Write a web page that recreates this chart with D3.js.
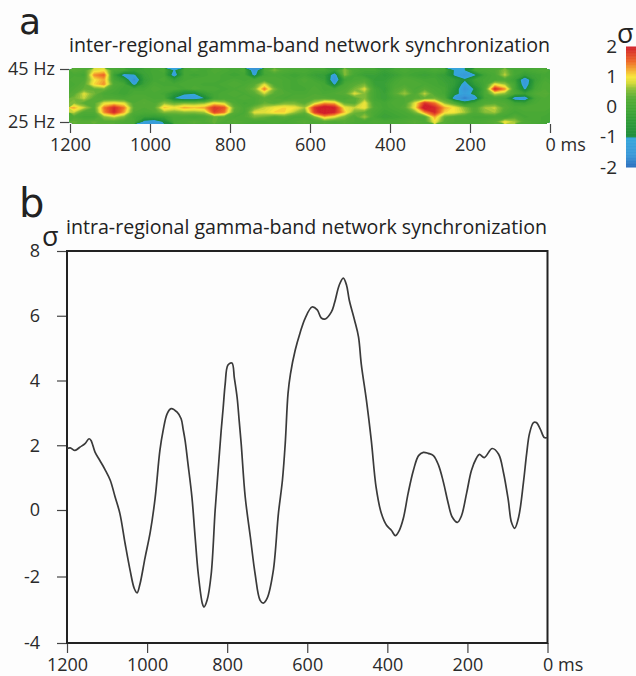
<!DOCTYPE html>
<html>
<head>
<meta charset="utf-8">
<script src="https://cdn.jsdelivr.net/npm/d3@7"></script>
<style>
  html, body { margin: 0; padding: 0; background: #fdfdfd; }
  svg { display: block; }
  text { font-family: "Open Sans", sans-serif; fill: #222; }
  .axis path { display: none; }
  .axis line { stroke: #444; stroke-width: 1.2; }
  .axis text { font-size: 18px; fill: #2a2a2a; }
</style>
</head>
<body>
<div id="chart"></div>
<script>
// Panel titles
const titleA = 'inter-regional gamma-band network synchronization'
const titleB = 'intra-regional gamma-band network synchronization'

// Tick labels
const timeTicks = [1200, 1000, 800, 600, 400, 200, 0]
const freqTicks = [45, 25]
const sigmaTicks = [8, 6, 4, 2, 0, -2, -4]
const legendTicks = [2, 1, 0, -1, -2]

// Colour bar stops, green to red above -1, blues below (the jump at -1 is in the original)
const warmValues = [-1, -0.5, 0, 0.3, 0.6, 0.8, 1, 1.5, 2]
const warmColors = ['#1f8c3c', '#2e9a38', '#47a836', '#58ad36', '#8fc038', '#d6dc3a', '#f8e63a', '#ee6a28', '#d2202c']
const blueValues = [-2, -1.6, -1]
const blueColors = ['#2b6fbd', '#3a98d8', '#35a8dc']

// Panel a: sigma per cell, rows from 45 Hz down to 25 Hz, columns from 1200 ms to 0 ms
const gridRows = [
  [0.3,0.2,0.9,1.0,0.1,0.0,-0.3,-0.1,0.0,0.1,-1.1,0.0,0.1,0.0,0.2,0.1,0.0,0.1,-1.6,0.1,0.5,0.2,0.1,0.1,0.0,0.0,-0.3,0.6,0.1,0.0,0.0,-0.2,0.0,0.1,0.0,0.0,0.1,0.0,-1.1,-1.0,0.0,0.1,0.2,0.6,0.0,0.0,0.1,0.2],
  [0.1,0.0,1.4,1.6,-0.2,-1.3,-1.1,-0.2,0.0,0.0,-1.4,0.0,-0.1,0.0,0.1,0.0,-0.1,0.0,-1.2,0.0,0.1,0.0,-0.1,0.0,-0.2,-0.3,-1.4,0.6,0.0,-0.2,-0.2,-0.4,-0.2,0.0,-0.1,-0.2,-0.1,-0.3,-1.1,-1.5,-1.1,-0.1,0.1,0.8,0.0,-0.3,-0.1,0.0],
  [0.2,0.2,1.0,1.3,0.0,-0.4,-1.7,-0.3,0.0,0.1,-0.3,0.0,0.1,0.1,0.1,0.0,0.1,0.0,0.1,0.2,0.2,0.1,0.0,0.2,0.0,-0.2,-1.6,-0.1,0.1,0.2,-0.3,-0.3,0.0,0.2,0.1,0.0,0.0,-0.2,-0.4,-0.9,-0.2,0.0,0.1,0.2,-0.2,-1.6,-0.2,0.1],
  [0.1,0.3,1.1,1.4,0.2,0.0,-1.2,-0.2,0.1,0.0,0.0,0.1,0.1,0.0,0.0,0.1,0.2,0.1,0.3,0.9,0.2,0.1,0.0,0.1,0.1,0.0,-1.1,0.1,0.3,0.5,-0.2,-0.2,0.1,0.2,0.2,0.1,0.0,-0.1,-0.4,-1.3,-0.4,0.0,1.0,0.7,0.0,-1.5,-0.1,0.2],
  [0.2,0.4,0.4,0.5,0.1,-0.1,0.0,0.0,0.2,0.1,0.1,0.0,0.2,0.1,0.1,0.0,0.1,0.2,0.5,1.5,0.5,0.1,0.0,0.0,0.2,0.0,0.0,0.2,0.5,0.9,0.0,-0.3,0.2,0.4,0.1,0.3,0.1,0.0,-0.6,-1.6,-0.9,0.1,2.0,1.4,0.0,-1.1,0.0,0.2],
  [0.3,0.9,0.5,0.1,0.0,-0.1,0.1,0.1,0.1,0.0,-0.5,-0.9,-1.0,-0.3,0.0,0.1,0.2,0.1,0.3,0.8,0.3,0.2,0.1,0.1,0.2,0.1,0.2,0.3,0.9,0.6,0.0,-0.2,0.3,0.7,0.2,0.8,0.2,0.0,-0.8,-1.3,-0.8,0.1,0.8,0.6,0.1,-0.2,0.2,0.3],
  [0.5,0.8,0.3,0.2,0.2,0.1,0.2,0.2,0.1,0.1,-1.0,-1.4,-1.4,-1.0,0.0,0.1,0.1,0.2,0.1,0.3,0.2,0.1,0.2,0.2,0.3,0.3,0.2,0.1,0.3,0.6,0.0,-0.2,0.1,0.2,0.3,0.4,0.5,0.2,-1.4,-1.8,-1.4,0.0,0.1,0.0,-1.4,-1.5,0.0,0.2],
  [0.6,0.3,0.3,0.9,1.0,0.9,0.2,0.3,0.2,0.6,0.4,0.5,0.5,0.6,1.0,0.8,0.2,0.0,0.1,0.4,0.3,0.5,0.5,0.3,0.8,1.3,1.2,0.4,0.3,1.0,0.1,0.0,0.2,0.2,0.9,1.9,1.5,0.6,0.2,-0.6,-0.1,0.2,0.3,0.2,-0.1,-0.2,0.1,0.2],
  [1.3,0.8,0.3,1.5,2.0,1.5,0.3,0.2,0.3,1.2,1.0,1.3,1.2,1.3,1.9,1.7,0.4,0.1,0.5,0.8,1.0,1.1,1.0,0.7,1.9,2.3,2.1,1.0,0.8,1.0,0.2,0.0,0.1,0.3,1.0,2.3,2.0,1.3,1.0,0.6,0.2,0.7,0.8,0.3,0.1,0.2,0.2,0.2],
  [0.8,0.2,0.2,1.4,2.0,1.3,0.2,0.1,0.2,0.6,0.5,0.6,0.6,0.7,1.8,1.5,0.3,0.1,0.9,0.9,1.1,1.1,0.7,0.4,1.8,2.3,2.0,1.2,0.5,0.4,0.1,-0.1,0.0,0.1,0.5,1.4,2.0,1.1,1.0,0.7,0.2,0.6,0.7,0.2,0.0,0.1,0.1,0.1],
  [0.2,0.0,0.0,0.6,0.8,0.5,0.0,-0.2,-0.3,-0.2,0.1,0.1,0.0,0.1,0.4,0.3,0.1,0.2,0.5,0.4,0.2,0.3,0.1,0.1,0.5,1.2,0.9,0.5,0.2,0.7,0.0,-0.2,-0.1,0.0,0.1,0.2,1.3,0.4,0.2,0.1,0.0,0.0,0.1,0.0,0.3,0.0,0.1,0.0],
  [0.4,0.3,0.4,0.3,0.3,0.2,0.1,-1.2,-1.4,-0.9,0.1,0.2,0.3,0.2,0.4,0.2,0.3,0.2,0.1,0.1,0.2,0.1,0.2,0.3,0.2,0.3,0.2,0.3,0.2,0.1,0.2,0.1,0.1,0.2,0.3,0.2,1.0,0.3,0.2,0.2,0.1,0.2,0.3,1.0,0.7,0.2,0.1,0.0]
]

// Panel b: time in ms and sigma
const traceTimes = [1200,1192,1180,1168,1155,1145,1140,1130,1118,1105,1092,1080,1068,1055,1042,1032,1025,1018,1005,992,980,968,960,950,940,925,915,910,905,898,888,880,872,862,858,850,840,830,822,815,810,805,798,788,782,775,770,765,755,742,730,718,710,700,685,672,662,655,648,642,630,618,605,588,575,565,555,540,532,520,510,502,495,482,472,465,452,440,428,415,402,390,380,370,360,348,335,322,310,298,285,272,260,248,238,225,215,202,190,178,170,158,138,122,110,98,90,82,72,60,52,45,35,28,18,8,0]
const traceSigma = [1.9,1.92,1.84,1.94,2.05,2.2,2.15,1.79,1.53,1.25,0.92,0.41,-0.1,-1.0,-1.84,-2.36,-2.49,-2.24,-1.43,-0.66,0.36,1.84,2.45,2.97,3.13,3.02,2.82,2.5,2.14,1.44,0.4,-0.82,-1.94,-2.81,-2.92,-2.71,-1.94,0,1.32,2.45,3.15,3.89,4.48,4.54,4.07,3.46,2.76,2.05,0.41,-0.82,-1.94,-2.71,-2.8,-2.65,-1.84,-0.1,0.92,2.05,3.6,4.2,4.94,5.47,5.93,6.27,6.18,5.93,5.9,6.11,6.39,6.95,7.16,6.95,6.48,5.87,5.35,4.5,3.37,2.14,0.7,-0.1,-0.46,-0.61,-0.77,-0.61,-0.25,0.52,1.22,1.68,1.78,1.75,1.68,1.38,0.86,0.21,-0.21,-0.37,-0.18,0.52,1.22,1.59,1.72,1.62,1.9,1.72,1.16,0.31,-0.37,-0.55,-0.21,0.86,1.75,2.36,2.7,2.7,2.5,2.24,2.24]

let svg = d3.select('#chart').append('svg')
    .attr('width', 636)
    .attr('height', 676)

// Small blur, the reference is a soft scan
let defs = svg.append('defs')
defs.append('filter').attr('id', 'soft')
  .append('feGaussianBlur').attr('stdDeviation', 0.7)
defs.append('clipPath').attr('id', 'heat-clip')
  .append('rect').attr('x', 69).attr('y', 68).attr('width', 481).attr('height', 56)

// Colour scale, continuous with a break to blue at -1
let warm = d3.scaleLinear().domain(warmValues).range(warmColors)
let blues = d3.scaleLinear().domain(blueValues).range(blueColors)
let color = v => v < -1 ? blues(Math.max(v, -2)) : warm(Math.min(v, 2))

// Panel a
// -------
let xHeat = d3.scaleLinear().domain([1200, 0]).range([70, 550])
let yHeat = d3.scaleLinear().domain([45, 25]).range([69, 122])
let nRows = gridRows.length, nCols = gridRows[0].length
let xCell = d3.scaleLinear().domain([0, nCols]).range([69, 550])
let yCell = d3.scaleLinear().domain([0, nRows]).range([68, 124])

let contours = d3.contours()
    .size([nCols, nRows])
    .thresholds(d3.range(-3, 2.6, 0.08))(gridRows.flat())

let cellPath = d3.geoPath(d3.geoTransform({
  point(x, y) { this.stream.point(xCell(x), yCell(y)) }
}))

svg.append('g')
  .attr('clip-path', 'url(#heat-clip)')
  .append('g')
  .attr('filter', 'url(#soft)')
  .selectAll('path')
  .data(contours)
  .join('path')
  .attr('d', cellPath)
  .attr('fill', d => color(d.value))

svg.append('g')
  .attr('class', 'axis')
  .attr('transform', 'translate(0,124)')
  .call(d3.axisBottom(xHeat).tickValues(timeTicks).tickSize(9).tickPadding(5).tickFormat(String))
  .call(msLabel)

svg.append('g')
  .attr('class', 'axis')
  .attr('transform', 'translate(69,0)')
  .call(d3.axisLeft(yHeat).tickValues(freqTicks).tickSize(9).tickPadding(5).tickFormat(d => d + ' Hz'))

// Panel b
// -------
let xTrace = d3.scaleLinear().domain([1200, 0]).range([67, 547.5])
// The printed axis is slightly uneven, so 0 gets its own stop
let yTrace = d3.scaleLinear().domain([8, 0, -4]).range([251, 510, 643])

svg.append('g')
  .attr('class', 'axis')
  .attr('transform', 'translate(0,643)')
  .call(d3.axisBottom(xTrace).tickValues(timeTicks).tickSize(10).tickPadding(5).tickFormat(String))
  .call(msLabel)

svg.append('g')
  .attr('class', 'axis')
  .attr('transform', 'translate(67,0)')
  .call(d3.axisLeft(yTrace).tickValues(sigmaTicks).tickSize(10).tickPadding(17).tickFormat(String))

svg.append('path')
  .attr('d', `M67,${yTrace(8)}H${xTrace(0)}V${yTrace(-4)}H67Z`)
  .attr('fill', 'none')
  .attr('stroke', '#222')
  .attr('stroke-width', 2)

let line = d3.line()
    .x(d => xTrace(d))
    .y((d, i) => yTrace(traceSigma[i]))
    .curve(d3.curveCatmullRom.alpha(0.5))

svg.append('path')
  .attr('d', line(traceTimes))
  .attr('fill', 'none')
  .attr('stroke', '#3a3a3a')
  .attr('stroke-width', 1.7)

// Colour bar
// ----------
let yLegend = d3.scaleLinear().domain([2, -2]).range([46.5, 167])
svg.append('g')
  .selectAll('rect')
  .data(d3.range(-2, 2, 0.02))
  .join('rect')
  .attr('x', 626)
  .attr('width', 10)
  .attr('y', d => yLegend(d + 0.02))
  .attr('height', d => yLegend(d) - yLegend(d + 0.02) + 0.5)
  .attr('fill', d => color(d))

svg.append('g')
  .attr('class', 'axis')
  .attr('transform', 'translate(626,0)')
  .call(d3.axisLeft(yLegend).tickValues(legendTicks).tickSize(0).tickPadding(9).tickFormat(String))
  .selectAll('text')
  .style('font-size', '19px')

// Text
// ----
let label = (x, y, size, text, family) => svg.append('text')
    .attr('x', x)
    .attr('y', y)
    .style('font-size', size + 'px')
    .style('font-family', family || null)
    .text(text)

label(19, 34, 36, 'a', '"DejaVu Sans"')
label(19, 217, 40, 'b', '"DejaVu Sans"')
label(69, 52, 19.6, titleA)
label(66, 234, 19.6, titleB)
label(617, 43, 27, 'σ')
label(42, 246, 27, 'σ')

// Put the unit after the zero tick, with the zero still on its tick
function msLabel(g) {
  g.selectAll('.tick text')
    .filter(d => d === 0)
    .attr('text-anchor', 'start')
    .attr('x', -5)
    .text('0 ms')
}
</script>
</body>
</html>
